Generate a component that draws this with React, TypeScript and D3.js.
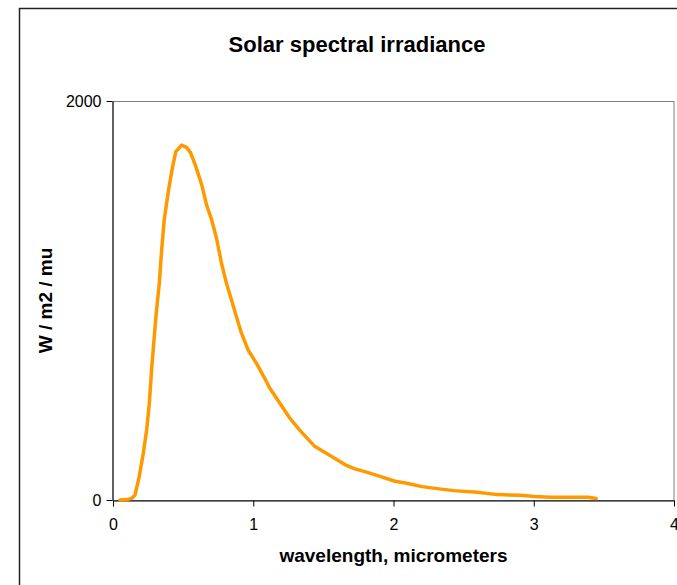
import * as d3 from "d3";
import { useEffect, useRef } from "react";

// wavelength in micrometers, irradiance in W / m2 / mu
const wavelength = [
    0.05, 0.1, 0.133, 0.157, 0.187, 0.216, 0.24, 0.259, 0.275, 0.306, 0.33, 0.347, 0.365, 0.394,
    0.425, 0.448, 0.489, 0.524, 0.553, 0.591, 0.633, 0.667, 0.702, 0.738, 0.774, 0.809, 0.845,
    0.88, 0.916, 0.963, 1.023, 1.082, 1.117, 1.189, 1.26, 1.331, 1.438, 1.544, 1.665, 1.725,
    1.808, 1.904, 2.011, 2.095, 2.203, 2.31, 2.43, 2.597, 2.74, 2.907, 3.003, 3.122, 3.265,
    3.385, 3.445,
];
const irradiance = [
    0, 2, 8, 25, 117, 234, 351, 485, 652, 919, 1086, 1253, 1403, 1545, 1671, 1746, 1779, 1768,
    1741, 1671, 1579, 1479, 1407, 1312, 1186, 1086, 1003, 919, 836, 752, 685, 610, 561, 486, 411,
    350, 269, 224, 173, 156, 140, 118, 94, 84, 67, 57, 47, 39, 27, 24, 17, 14, 14, 14, 8,
];
const xTicks = [0, 1, 2, 3, 4];
const yTicks = [0, 2000];

const title = "Solar spectral irradiance";
const xLabel = "wavelength, micrometers";
const yLabel = "W / m2 / mu";

const svgWidth = 677;
const svgHeight = 585;
const plotLeft = 113;
const plotRight = 674;
const plotTop = 101;
const plotBottom = 500;
const font = "'Liberation Sans', Arial, sans-serif";

export default function App() {
    const svgRef = useRef<SVGSVGElement>(null);

    useEffect(() => {
        if (svgRef.current) {
            drawChart();
        }
    }, [svgRef]);

    const drawChart = () => {
        const svg = d3.select(svgRef.current);
        svg.selectAll("*").remove();

        var scaleX = d3.scaleLinear().domain([0, 4]).range([plotLeft, plotRight]);
        var scaleY = d3.scaleLinear().domain([0, 2000]).range([plotBottom, plotTop]);

        // outer chart frame
        svg.append("rect")
            .attr("x", 19.5)
            .attr("y", 8.5)
            .attr("width", 720)
            .attr("height", 620)
            .attr("fill", "white")
            .attr("stroke", "#222")
            .attr("stroke-width", 1.5);

        // plot area border (top/right gray)
        svg.append("rect")
            .attr("x", plotLeft)
            .attr("y", plotTop + 0.5)
            .attr("width", plotRight - plotLeft)
            .attr("height", plotBottom - plotTop)
            .attr("fill", "none")
            .attr("stroke", "#808080")
            .attr("stroke-width", 1);

        // x axis
        svg.append("g")
            .attr("transform", "translate(0," + (plotBottom + 0.5) + ")")
            .call(d3.axisBottom(scaleX).tickValues(xTicks).tickSize(6).tickSizeOuter(0).tickFormat((d) => `${d}`))
            .call((g: any) => g.select(".domain").attr("stroke", "#000").attr("stroke-width", 1.2))
            .call((g: any) => g.selectAll(".tick line").attr("stroke", "#000"))
            .call((g: any) =>
                g.selectAll(".tick text").attr("y", 18).attr("font-size", 16).attr("font-family", font).attr("fill", "#000")
            );

        // y axis
        svg.append("g")
            .attr("transform", "translate(" + (plotLeft - 0.5) + ",0)")
            .call(d3.axisLeft(scaleY).tickValues(yTicks).tickSize(6).tickSizeOuter(0).tickFormat((d) => `${d}`))
            .call((g: any) => g.select(".domain").attr("stroke", "#222").attr("stroke-width", 1.2))
            .call((g: any) => g.selectAll(".tick line").attr("stroke", "#000"))
            .call((g: any) =>
                g.selectAll(".tick text").attr("x", -11).attr("font-size", 16).attr("font-family", font).attr("fill", "#000")
            );

        // spectrum line
        const points: [number, number][] = wavelength.map((w, i) => [w, irradiance[i]]);
        svg.append("path")
            .datum(points)
            .attr("fill", "none")
            .attr("stroke", "#FF9900")
            .attr("stroke-width", 3.5)
            .attr("stroke-linejoin", "round")
            .attr("stroke-linecap", "round")
            .attr(
                "d",
                d3
                    .line<[number, number]>()
                    .x((d) => scaleX(d[0]))
                    .y((d) => scaleY(d[1]))
            );

        // title and axis labels
        svg.append("text")
            .attr("x", 357)
            .attr("y", 52)
            .attr("text-anchor", "middle")
            .attr("font-family", font)
            .attr("font-weight", "bold")
            .attr("font-size", 22)
            .text(title);

        svg.append("text")
            .attr("x", (plotLeft + plotRight) / 2)
            .attr("y", 562)
            .attr("text-anchor", "middle")
            .attr("font-family", font)
            .attr("font-weight", "bold")
            .attr("font-size", 19)
            .text(xLabel);

        svg.append("text")
            .attr("transform", "translate(52," + (plotTop + plotBottom) / 2 + ") rotate(-90)")
            .attr("text-anchor", "middle")
            .attr("font-family", font)
            .attr("font-weight", "bold")
            .attr("font-size", 19)
            .text(yLabel);
    };

    return (
        <svg
            ref={svgRef}
            width={svgWidth}
            height={svgHeight}
            style={{ position: "absolute", left: 0, top: 0, background: "white" }}
        />
    );
}
